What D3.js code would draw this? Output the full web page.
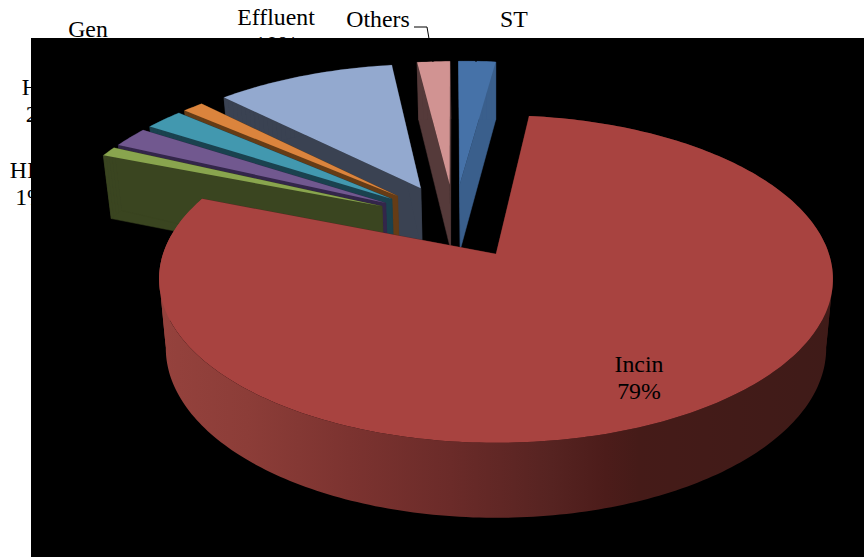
<!DOCTYPE html>
<html>
<head>
<meta charset="utf-8">
<style>
  html, body { margin: 0; padding: 0; background: #fff; }
  text { font-family: "Liberation Serif", serif; font-size: 23.8px; fill: #000; text-anchor: middle; }
</style>
<script src="https://cdn.jsdelivr.net/npm/d3@7"></script>
</head>
<body>
<svg id="chart" width="864" height="559"></svg>
<script>
// Waste stream shares, clockwise from the first slice.
const categories = ["ST", "Incin", "HIV", "HW", "Gen", "Chem", "Effluent", "Others"];
const shares = [2.15, 79.1, 1.0, 2.1, 2.2, 1.2, 10.35, 1.9];
const topColors = ["#4672a8", "#a84340", "#89a54e", "#71588f", "#4298af", "#db843d", "#93a9cf", "#d19392"];
const wallColors = ["#3a5f8c", "#5a2523", "#3a4520", "#33264a", "#1a424f", "#653c16", "#3a4252", "#553a3a"];
// Shading across the curved side of the large slice, left to right.
const shadeStops = [0, 0.13, 0.28, 0.43, 0.58, 0.66, 0.71, 1];
const shadeColors = ["#95423d", "#8c3d38", "#7c3330", "#6b2b29", "#562321", "#4c1c1a", "#451b18", "#3f1b18"];

// Text placed outside the plot: lines with their centre and baselines.
const outerLabels = [
  { lines: ["Effluent", "10%"], cx: 276, y: 25 },
  { lines: ["Others", "2%"], cx: 378, y: 27 },
  { lines: ["ST", "2%"], cx: 514, y: 27 },
  { lines: ["Gen", "2%"], cx: 88, y: 37 },
  { lines: ["HW", "2%"], cx: 41.5, y: 95 },
  { lines: ["HIV", "1%"], cx: 31, y: 178 }
];
const lineHeight = 27;

const svg = d3.select("#chart");

// Perspective projection of the pie plane; v grows toward the viewer.
const originX = 496, originY = 254, tilt = 0.1525;
const scaleU = d3.scaleLinear().domain([0, 1]).range([0, 333]);
const scaleV = d3.scaleLinear().domain([0, 1]).range([0, 160]);
const project = (u, v) => {
  const w = 1 - tilt * v;
  return [originX + scaleU(u) / w, originY + scaleV(v) / w];
};
// The underside sits lower and slightly narrower than the top face.
const drop = ([x, y], v) => [originX + (x - originX) * 0.98, y + 68 + 7 * v];

// The red slice is the reference origin; the others are offset from the common centre.
const explode = 0.25, stepDeg = 1, smallRadius = 1.012;
const arcs = d3.pie().sort(null).value(d => d)
  .startAngle(-1.16 * Math.PI / 180)
  .endAngle((360 - 1.16) * Math.PI / 180)(shares);
const redMid = (arcs[1].startAngle + arcs[1].endAngle) / 2;
const centre = [-explode * Math.sin(redMid), explode * Math.cos(redMid)];

const polygon = d3.line();

function sliceGeometry(arc, radius) {
  const mid = (arc.startAngle + arc.endAngle) / 2;
  const a = [centre[0] + explode * Math.sin(mid), centre[1] - explode * Math.cos(mid)];
  const pt = t => [a[0] + radius * Math.sin(t), a[1] - radius * Math.cos(t)];
  const count = Math.max(2, Math.ceil((arc.endAngle - arc.startAngle) * 180 / Math.PI / stepDeg));
  const rim = d3.range(count + 1).map(i => pt(arc.startAngle + (arc.endAngle - arc.startAngle) * i / count));
  return { apex: a, rim };
}
const topOf = p => project(p[0], p[1]);
const bottomOf = p => drop(project(p[0], p[1]), p[1]);

// Labels go first so the plot background hides part of them.
const labels = svg.append("g");
outerLabels.forEach(l => {
  l.lines.forEach((s, i) => {
    labels.append("text").attr("x", l.cx).attr("y", l.y + i * lineHeight).text(s);
  });
});

svg.append("rect").attr("x", 31).attr("y", 38).attr("width", 833).attr("height", 519).attr("fill", "#000");

const defs = svg.append("defs");
const grad = defs.append("linearGradient").attr("id", "sideShade")
  .attr("gradientUnits", "userSpaceOnUse")
  .attr("x1", 160).attr("x2", 835).attr("y1", 0).attr("y2", 0);
shadeStops.forEach((s, i) => grad.append("stop").attr("offset", s).attr("stop-color", shadeColors[i]));
// The drawing area ends just above the back slices.
defs.append("clipPath").attr("id", "plotArea").append("rect")
  .attr("x", 31).attr("y", 60).attr("width", 833).attr("height", 497);

// Leader lines to the two narrow slices at the back.
const leaders = [
  [[414, 27], [427, 27], [433, 62]],
  [[476, 38], [476, 62]]
];

const sliceLayer = svg.append("g").attr("clip-path", "url(#plotArea)");

function drawSlice(i) {
  const g = sliceLayer.append("g");
  const { apex, rim } = sliceGeometry(arcs[i], i === 1 ? 1 : smallRadius);
  const wall = (p, q) => g.append("path")
    .attr("d", polygon([topOf(p), topOf(q), bottomOf(q), bottomOf(p)]) + "Z")
    .attr("fill", wallColors[i]).attr("stroke", wallColors[i]).attr("stroke-width", 0.5);
  wall(apex, rim[0]);
  wall(apex, rim[rim.length - 1]);
  if (i === 1) {
    // The projected rim turns back at v = tilt, so each run gets its own band.
    const runs = [
      rim.filter(p => p[1] <= tilt + 0.01 && p[0] > 0),
      rim.filter(p => p[1] <= tilt + 0.01 && p[0] < 0),
      rim.filter(p => p[1] >= tilt - 0.01)
    ];
    runs.forEach(run => g.append("path")
      .attr("d", polygon([...run.map(topOf), ...run.map(bottomOf).reverse()]) + "Z")
      .attr("fill", "url(#sideShade)"));
  } else {
    rim.slice(1).forEach((q, j) => wall(rim[j], q));
  }
  g.append("path")
    .attr("d", polygon([apex, ...rim].map(topOf)) + "Z")
    .attr("fill", topColors[i]);
}

// Painted from the back outward, the large slice last.
[6, 5, 4, 3, 2, 7, 0, 1].forEach(drawSlice);

leaders.forEach(pts => {
  svg.append("path").attr("d", polygon(pts)).attr("fill", "none").attr("stroke", "#000").attr("stroke-width", 1);
});

const incin = svg.append("g");
incin.append("text").attr("x", 639).attr("y", 372).text(categories[1]);
incin.append("text").attr("x", 639).attr("y", 399).text(Math.round(shares[1]) + "%");
</script>
</body>
</html>
